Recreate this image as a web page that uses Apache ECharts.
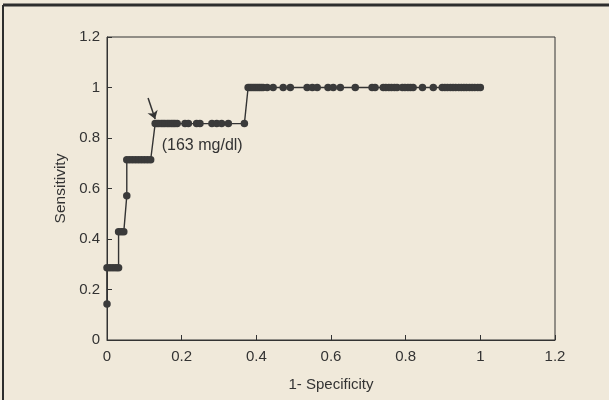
<!DOCTYPE html>
<html>

<head>
  <meta charset="utf-8">
  <script src="https://cdn.jsdelivr.net/npm/echarts@6/dist/echarts.min.js"></script>
  <style>
    html, body {
      margin: 0;
      background: #f0e9da;
    }
    #chart {
      width: 609px;
      height: 400px;
    }
  </style>
</head>

<body>
  <div id="chart"></div>
  <script>
    const sensLevels = [0.143, 0.286, 0.429, 0.571, 0.714, 0.857, 1.0]
    const fprAtLevel = [
      [0],
      [0, 0.008, 0.016, 0.024, 0.031],
      [0.031, 0.038, 0.045],
      [0.053],
      [0.053, 0.061, 0.069, 0.077, 0.085, 0.093, 0.101, 0.109, 0.117],
      [0.129, 0.134, 0.139, 0.145, 0.150, 0.155, 0.161, 0.166, 0.172, 0.177, 0.182, 0.188,
        0.209, 0.218, 0.240, 0.249, 0.281, 0.294, 0.307, 0.325, 0.368],
      [0.378, 0.383, 0.388, 0.393, 0.398, 0.403, 0.408, 0.413, 0.418, 0.429, 0.445,
        0.472, 0.491, 0.536, 0.550, 0.563, 0.592, 0.606, 0.625, 0.665, 0.710, 0.718,
        0.740, 0.747, 0.755, 0.762, 0.770, 0.777, 0.791, 0.798, 0.806, 0.813, 0.820,
        0.845, 0.874, 0.898, 0.905, 0.912, 0.920, 0.927, 0.934, 0.942, 0.949, 0.956,
        0.963, 0.971, 0.978, 0.985, 0.993, 1.0]
    ]
    const xTicks = ['0', '0.2', '0.4', '0.6', '0.8', '1', '1.2']
    const yTicks = ['0', '0.2', '0.4', '0.6', '0.8', '1', '1.2']
    const cutoffLabel = '(163 mg/dl)'

    const points = []
    fprAtLevel.forEach((xs, i) => {
      xs.forEach(x => points.push([x, sensLevels[i]]))
    })

    const ink = '#333'
    const font = 'Liberation Sans'

    const option = {
      backgroundColor: '#f0e9da',
      textStyle: { fontFamily: font },
      graphic: [
        // the scanned page frame
        { type: 'line', shape: { x1: 3, y1: 5, x2: 609, y2: 5 }, style: { stroke: '#2d2d2d', lineWidth: 3 } },
        { type: 'line', shape: { x1: 3, y1: 5, x2: 3, y2: 400 }, style: { stroke: '#2d2d2d', lineWidth: 2 } }
      ],
      grid: {
        left: 107,
        right: 54,
        top: 37,
        bottom: 60,
        show: true,
        borderColor: ink,
        borderWidth: 1
      },
      xAxis: {
        type: 'value',
        min: 0,
        max: 1.2,
        interval: 0.2,
        name: '1- Specificity',
        nameLocation: 'middle',
        nameGap: 37,
        nameTextStyle: { color: ink, fontSize: 15, fontFamily: font },
        axisLine: { lineStyle: { color: ink } },
        axisTick: { inside: true, length: 5, lineStyle: { color: ink } },
        axisLabel: {
          color: ink, fontSize: 15, margin: 9,
          formatter: (v) => xTicks[Math.round(v / 0.2)]
        },
        splitLine: { show: false }
      },
      yAxis: {
        type: 'value',
        min: 0,
        max: 1.2,
        interval: 0.2,
        name: 'Sensitivity',
        nameLocation: 'middle',
        nameGap: 36,
        nameTextStyle: { color: ink, fontSize: 15.5, fontFamily: font },
        axisLine: { lineStyle: { color: ink } },
        axisTick: { inside: true, length: 5, lineStyle: { color: ink } },
        axisLabel: {
          color: ink, fontSize: 15, margin: 7,
          formatter: (v) => yTicks[Math.round(v / 0.2)]
        },
        splitLine: { show: false }
      },
      series: [{
        type: 'line',
        data: points,
        symbol: 'circle',
        symbolSize: 7.5,
        showAllSymbol: true,
        lineStyle: { color: ink, width: 1.4 },
        itemStyle: { color: '#3a3a3a' },
        animation: false,
        markLine: {
          silent: true,
          symbol: ['none', 'arrow'],
          symbolSize: 8,
          label: { show: false },
          lineStyle: { color: ink, type: 'solid', width: 1.5 },
          data: [[{ coord: [0.110, 0.958] }, { coord: [0.129, 0.875] }]]
        },
        markPoint: {
          silent: true,
          symbol: 'circle',
          symbolSize: 0,
          label: {
            show: true,
            formatter: cutoffLabel,
            color: ink,
            fontSize: 16,
            fontFamily: font
          },
          data: [{ coord: [0.255, 0.768] }]
        }
      }]
    }

    const chart = echarts.init(document.getElementById('chart'))
    chart.setOption(option)
  </script>
</body>

</html>
